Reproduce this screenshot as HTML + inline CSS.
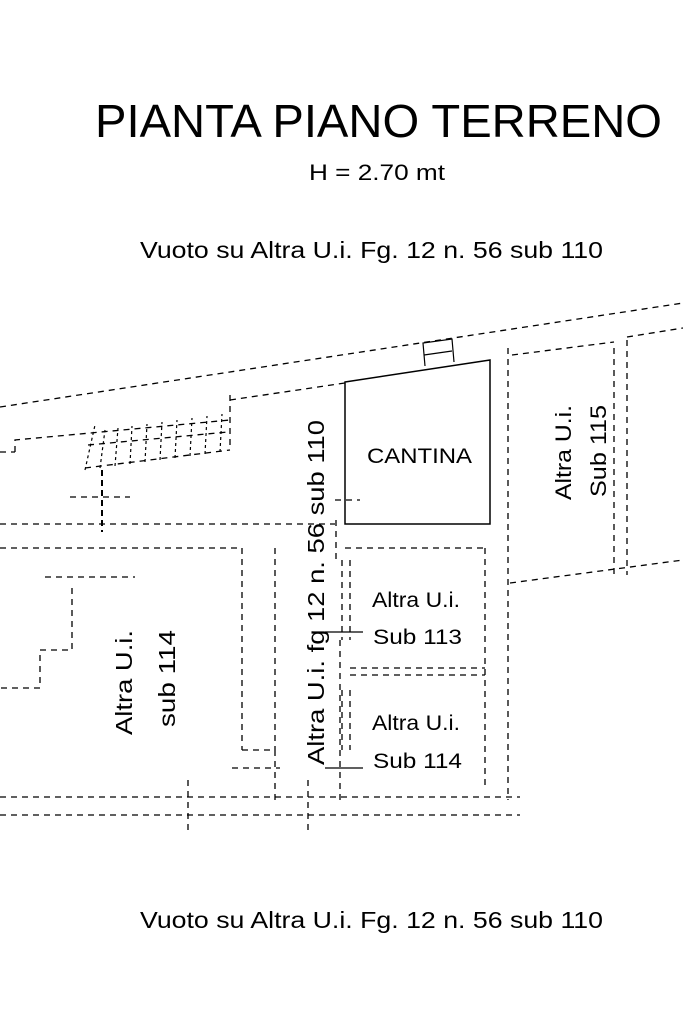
<!DOCTYPE html>
<html><head><meta charset="utf-8"><style>
html,body{margin:0;padding:0;background:#fff;}
svg{display:block;}
text{font-family:"Liberation Sans",sans-serif;fill:#000;}
</style></head><body>
<svg width="683" height="1023" viewBox="0 0 683 1023" xmlns="http://www.w3.org/2000/svg">
<text x="95" y="137" font-size="46" textLength="567" lengthAdjust="spacingAndGlyphs">PIANTA PIANO TERRENO</text>
<text x="309" y="180" font-size="22" textLength="136" lengthAdjust="spacingAndGlyphs">H = 2.70 mt</text>
<text x="140" y="258" font-size="23" textLength="463" lengthAdjust="spacingAndGlyphs">Vuoto su Altra U.i. Fg. 12 n. 56 sub 110</text>
<text x="140" y="928" font-size="23" textLength="463" lengthAdjust="spacingAndGlyphs">Vuoto su Altra U.i. Fg. 12 n. 56 sub 110</text>

<g stroke="#000" stroke-width="1.3" fill="none" stroke-dasharray="6,5">
<line x1="0" y1="407" x2="683" y2="303"/>
<line x1="230" y1="400" x2="345" y2="383"/>
<polyline points="15,452 15,440 230,420"/>
<line x1="0" y1="452" x2="15" y2="452"/>
<line x1="230" y1="395" x2="230" y2="450"/>
<line x1="85" y1="468" x2="230" y2="450"/>
<line x1="88" y1="445" x2="228" y2="432"/>
<line x1="508" y1="348" x2="508" y2="800"/>
<line x1="512" y1="355" x2="614" y2="342"/>
<line x1="627" y1="337" x2="683" y2="328"/>
<line x1="614" y1="348" x2="614" y2="575"/>
<line x1="627" y1="340" x2="627" y2="575"/>
<line x1="510" y1="583" x2="683" y2="560"/>
<line x1="0" y1="524" x2="335" y2="524"/>
<line x1="70" y1="497" x2="130" y2="497"/>
<line x1="0" y1="548" x2="240" y2="548"/>
<line x1="242" y1="548" x2="242" y2="750"/>
<line x1="275" y1="548" x2="275" y2="750"/>
<line x1="242" y1="750" x2="275" y2="750"/>
<line x1="345" y1="548" x2="485" y2="548"/>
<line x1="485" y1="548" x2="485" y2="790"/>
<line x1="350" y1="668" x2="485" y2="668"/>
<line x1="350" y1="675" x2="485" y2="675"/>
<line x1="342" y1="560" x2="342" y2="640"/>
<line x1="350" y1="560" x2="350" y2="640"/>
<line x1="342" y1="690" x2="342" y2="750"/>
<line x1="350" y1="690" x2="350" y2="750"/>
<line x1="336" y1="520" x2="336" y2="560"/>
<line x1="335" y1="500" x2="360" y2="500"/>
<line x1="45" y1="577" x2="135" y2="577"/>
<polyline points="72,588 72,650 40,650 40,688 0,688"/>
<line x1="232" y1="768" x2="280" y2="768"/>
<line x1="0" y1="797" x2="520" y2="797"/>
<line x1="0" y1="815" x2="520" y2="815"/>
<line x1="188" y1="780" x2="188" y2="835"/>
<line x1="308" y1="780" x2="308" y2="835"/>
<line x1="275" y1="750" x2="275" y2="800"/>
<line x1="340" y1="640" x2="340" y2="800"/>
</g>
<g stroke="#000" stroke-width="1.2" fill="none" stroke-dasharray="3,3">
<path d="M85,470 L95,425 M100,468 L105,430 M115,466 L118,428 M130,464 L132,426 M145,462 L147,424 M160,460 L162,422 M175,458 L177,420 M190,456 L192,418 M205,454 L207,416 M220,452 L222,414"/>
</g>
<line x1="102" y1="470" x2="102" y2="532" stroke="#000" stroke-width="2" stroke-dasharray="6,4"/>
<polygon points="345,382 490,360 490,524 345,524" fill="none" stroke="#000" stroke-width="1.5"/>
<g stroke="#000" stroke-width="1.2" fill="none">
<polyline points="425,366 423,343 452,339 454,362"/>
<line x1="424" y1="355" x2="452" y2="351"/>
<line x1="325" y1="632" x2="363" y2="632"/>
<line x1="325" y1="768" x2="363" y2="768"/>
</g>
<text x="367" y="463" font-size="21" textLength="105" lengthAdjust="spacingAndGlyphs">CANTINA</text>
<text transform="translate(571,500) rotate(-90)" font-size="22" textLength="95" lengthAdjust="spacingAndGlyphs">Altra U.i.</text>
<text transform="translate(606,497) rotate(-90)" font-size="22" textLength="92" lengthAdjust="spacingAndGlyphs">Sub 115</text>
<text transform="translate(132,735) rotate(-90)" font-size="23" textLength="105" lengthAdjust="spacingAndGlyphs">Altra U.i.</text>
<text transform="translate(175,727) rotate(-90)" font-size="23" textLength="97" lengthAdjust="spacingAndGlyphs">sub 114</text>
<text transform="translate(324,765) rotate(-90)" font-size="23" textLength="345" lengthAdjust="spacingAndGlyphs">Altra U.i. fg 12 n. 56 sub 110</text>
<text x="372" y="607" font-size="21" textLength="88" lengthAdjust="spacingAndGlyphs">Altra U.i.</text>
<text x="373" y="644" font-size="21" textLength="89" lengthAdjust="spacingAndGlyphs">Sub 113</text>
<text x="372" y="730" font-size="21" textLength="88" lengthAdjust="spacingAndGlyphs">Altra U.i.</text>
<text x="373" y="768" font-size="21" textLength="89" lengthAdjust="spacingAndGlyphs">Sub 114</text>
</svg>
</body></html>
